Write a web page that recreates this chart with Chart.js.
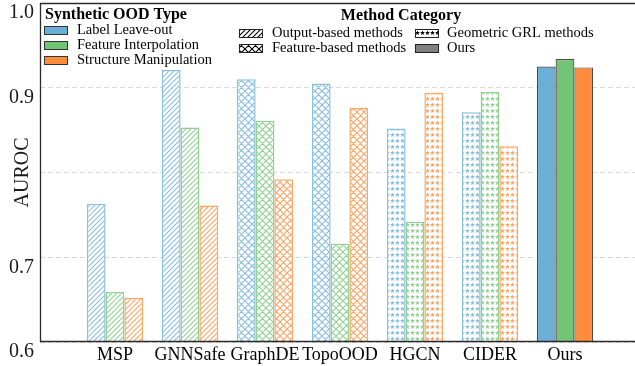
<!DOCTYPE html>
<html>
<head>
<meta charset="utf-8">
<script src="https://cdn.jsdelivr.net/npm/chart.js@4.4.1/dist/chart.umd.min.js"></script>
<style>
  html, body { margin: 0; padding: 0; overflow: hidden; background: #ffffff; }
  #wrap { width: 640px; height: 366px; }
</style>
</head>
<body>
<div id="wrap"><canvas id="c" width="640" height="366"></canvas></div>
<script>
// ---- data ----
const categories = ['MSP', 'GNNSafe', 'GraphDE', 'TopoOOD', 'HGCN', 'CIDER', 'Ours'];
const methodCategory = ['output', 'output', 'feature', 'feature', 'geometric', 'geometric', 'ours'];
const labelLeaveOut = [0.763, 0.921, 0.910, 0.905, 0.852, 0.871, 0.925];
const featureInterpolation = [0.659, 0.853, 0.861, 0.716, 0.742, 0.895, 0.934];
const structureManipulation = [0.652, 0.761, 0.792, 0.876, 0.894, 0.831, 0.924];
const seriesNames = ['Label Leave-out', 'Feature Interpolation', 'Structure Manipulation'];
const yTicks = [0.6, 0.7, 0.8, 0.9, 1.0];
const hiddenTickLabels = [0.8];
const methodLegend = [
  ['output', 'Output-based methods'],
  ['feature', 'Feature-based methods'],
  ['geometric', 'Geometric GRL methods'],
  ['ours', 'Ours']
];

// ---- styling ----
const baseColors = ['#6baed6', '#74c476', '#fd8d3c'];
const FONT = '"Liberation Serif", "Times New Roman", serif';

function hexToRgba(hex, a) {
  const n = parseInt(hex.slice(1), 16);
  return `rgba(${(n >> 16) & 255},${(n >> 8) & 255},${n & 255},${a})`;
}

function starPath(ctx, cx, cy, ro, ri) {
  ctx.beginPath();
  for (let i = 0; i < 10; i++) {
    const r = i % 2 === 0 ? ro : ri;
    const a = -Math.PI / 2 + i * Math.PI / 5;
    const x = cx + r * Math.cos(a), y = cy + r * Math.sin(a);
    if (i === 0) ctx.moveTo(x, y); else ctx.lineTo(x, y);
  }
  ctx.closePath();
}

function makePattern(type, color) {
  const c = document.createElement('canvas');
  const ctx = c.getContext('2d');
  if (type === 'output') {
    const s = 5; c.width = s; c.height = s;
    ctx.fillStyle = '#fff'; ctx.fillRect(0, 0, s, s);
    ctx.strokeStyle = color; ctx.lineWidth = 1.1;
    ctx.beginPath();
    for (const k of [-s, 0, s]) { ctx.moveTo(k - 1, s + 1); ctx.lineTo(k + s + 1, -1); }
    ctx.stroke();
  } else if (type === 'feature') {
    const s = 7; c.width = s; c.height = s;
    ctx.fillStyle = '#fff'; ctx.fillRect(0, 0, s, s);
    ctx.strokeStyle = color; ctx.lineWidth = 1.1;
    ctx.beginPath();
    for (const k of [-s, 0, s]) {
      ctx.moveTo(k - 1, s + 1); ctx.lineTo(k + s + 1, -1);
      ctx.moveTo(k - 1, -1); ctx.lineTo(k + s + 1, s + 1);
    }
    ctx.stroke();
  } else if (type === 'geometric') {
    const w = 5, h = 6; c.width = w; c.height = h;
    ctx.fillStyle = '#fff'; ctx.fillRect(0, 0, w, h);
    ctx.fillStyle = color;
    starPath(ctx, 2.5, 3, 2.5, 1.1); ctx.fill();
  }
  return document.createElement('canvas').getContext('2d').createPattern(c, 'repeat');
}

function barStyles(colorIdx) {
  const base = baseColors[colorIdx];
  const light = hexToRgba(base, 0.8);
  const bg = [], border = [], bw = [];
  methodCategory.forEach(m => {
    if (m === 'ours') { bg.push(base); border.push('#4a4a4a'); bw.push(1.2); }
    else { bg.push(makePattern(m, light)); border.push(light); bw.push(1.5); }
  });
  return { bg, border, bw };
}

const seriesValues = [labelLeaveOut, featureInterpolation, structureManipulation];
const datasets = seriesValues.map((vals, si) => {
  const st = barStyles(si);
  return {
    label: seriesNames[si],
    data: vals.map((v, i) => ({ x: i, y: v })),
    backgroundColor: st.bg,
    borderColor: st.border,
    borderWidth: st.bw,
    borderSkipped: false,
    categoryPercentage: 0.75,
    barPercentage: 1.0
  };
});

// ---- custom drawing: frame + legends ----
const framePlugin = {
  id: 'frameAndLegends',
  afterDatasetsDraw(chart) {
    const { ctx, chartArea: a } = chart;
    ctx.save();
    ctx.strokeStyle = '#2b2b2b';
    ctx.lineWidth = 1.3;
    ctx.beginPath();
    const l = Math.round(a.left) + 0.5, t = Math.round(a.top) + 0.5, b = Math.round(a.bottom) - 0.5;
    ctx.moveTo(a.right + 5, t); ctx.lineTo(l, t); ctx.lineTo(l, b); ctx.lineTo(a.right + 5, b);
    ctx.stroke();
    ctx.restore();
  },
  afterDraw(chart) {
    const ctx = chart.ctx;
    ctx.save();
    ctx.textBaseline = 'middle';
    ctx.fillStyle = '#000';
    // Legend 1
    ctx.font = `bold 16px ${FONT}`;
    ctx.textAlign = 'left';
    ctx.fillText('Synthetic OOD Type', 45, 15);
    ctx.font = `14.5px ${FONT}`;
    seriesNames.forEach((name, i) => {
      const cy = 30 + i * 15;
      ctx.fillStyle = baseColors[i];
      ctx.fillRect(44, cy - 4, 23, 8);
      ctx.strokeStyle = '#333'; ctx.lineWidth = 1;
      ctx.strokeRect(44.5, cy - 3.5, 23, 8);
      ctx.fillStyle = '#000';
      ctx.fillText(name, 77, cy + 0.5);
    });
    // Legend 2
    ctx.font = `bold 16px ${FONT}`;
    ctx.textAlign = 'center';
    ctx.fillText('Method Category', 401, 16);
    ctx.textAlign = 'left';
    ctx.font = `14.5px ${FONT}`;
    methodLegend.forEach(([m, text], i) => {
      const col = Math.floor(i / 2), row = i % 2;
      const px = col === 0 ? 239 : 415;
      const tx = col === 0 ? 272 : 447;
      const cy = 33 + row * 15;
      if (m === 'ours') ctx.fillStyle = '#808080';
      else ctx.fillStyle = makePattern(m, '#000');
      ctx.fillRect(px, cy - 4, 23, 8);
      ctx.strokeStyle = '#222'; ctx.lineWidth = 1;
      ctx.strokeRect(px + 0.5, cy - 3.5, 23, 8);
      ctx.fillStyle = '#000';
      ctx.fillText(text, tx, cy + 0.5);
    });
    ctx.restore();
  }
};

new Chart(document.getElementById('c'), {
  type: 'bar',
  data: { datasets },
  plugins: [framePlugin],
  options: {
    responsive: false,
    animation: false,
    devicePixelRatio: 1,
    layout: { padding: { top: 3, left: 0, right: 0, bottom: 0 } },
    plugins: { legend: { display: false }, tooltip: { enabled: false } },
    scales: {
      x: {
        type: 'linear',
        min: -1,
        max: 7,
        offset: false,
        grid: { display: false, drawTicks: false },
        border: { display: false },
        afterBuildTicks: (scale) => { scale.ticks = categories.map((c, i) => ({ value: i })); },
        afterFit: (scale) => { scale.height = 24; scale.paddingLeft = 0; scale.paddingRight = 0; },
        ticks: {
          autoSkip: false,
          maxRotation: 0,
          padding: 2,
          color: '#000',
          font: { family: FONT, size: 18 },
          callback: (v) => categories[v] ?? ''
        }
      },
      y: {
        min: 0.6,
        max: 1.0,
        afterBuildTicks: (scale) => { scale.ticks = yTicks.map(v => ({ value: v })); },
        afterFit: (scale) => { scale.width = 40; scale.paddingTop = 0; scale.paddingBottom = 0; },
        grid: { color: '#d9d9d9', lineWidth: 1, drawTicks: false },
        border: { display: false, dash: [5, 3] },
        ticks: {
          padding: 6,
          labelOffset: 10,
          color: '#1a1a1a',
          font: { family: FONT, size: 20 },
          callback: (v) => hiddenTickLabels.some(h => Math.abs(h - v) < 1e-6) ? '' : v.toFixed(1)
        },
        title: {
          display: true,
          text: 'AUROC',
          color: '#1a1a1a',
          font: { family: FONT, size: 20 },
          padding: { top: 11, bottom: 0 }
        }
      }
    }
  }
});
</script>
</body>
</html>
